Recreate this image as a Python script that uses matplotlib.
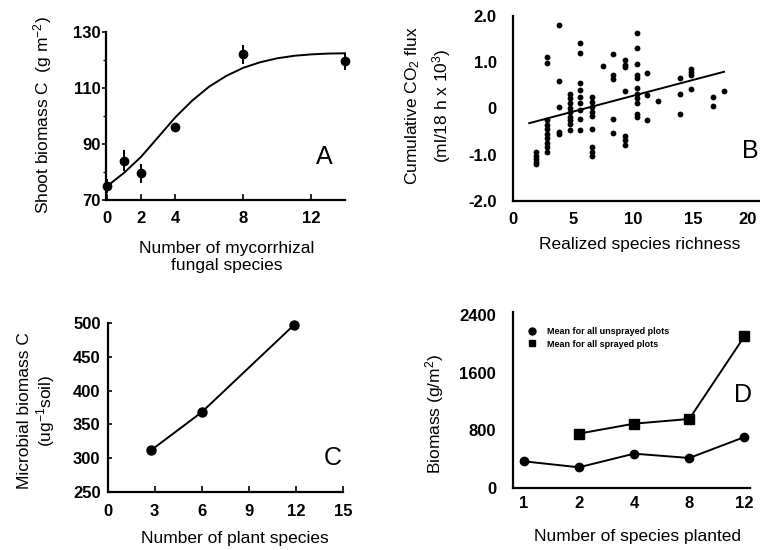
import matplotlib
matplotlib.use("Agg")
import matplotlib.pyplot as plt
from matplotlib.lines import Line2D
from matplotlib.transforms import ScaledTranslation

plt.rcParams['font.family'] = ['Liberation Sans', 'DejaVu Sans']
plt.rcParams['mathtext.fontset'] = 'custom'
plt.rcParams['mathtext.rm'] = 'Liberation Sans'
plt.rcParams['mathtext.it'] = 'Liberation Sans:italic'
plt.rcParams['mathtext.bf'] = 'Liberation Sans:bold'

# ---------------- Panel A data ----------------
a_species = [0, 1, 2, 4, 8, 14]
a_biomass = [75, 84, 79.5, 96, 122, 119.5]
a_err = [2.5, 3.7, 3.3, 1.0, 3.5, 2.9]
a_curve_x = [0, 1, 2, 3, 4, 5, 6, 7, 8, 9, 10, 11, 12, 13, 14]
a_curve_y = [75, 79.8, 85.5, 92.5, 99.5, 105.5, 110.5, 114.3, 117.2, 119.2, 120.6, 121.5, 122.0, 122.3, 122.4]
a_xticks = [0, 2, 4, 8, 12]
a_yticks = [70, 90, 110, 130]

# ---------------- Panel B data ----------------
b_richness = [1.9, 2.85, 3.8, 4.7, 5.6, 6.55, 7.5, 8.35, 9.3, 10.3, 11.2, 12.1, 13.95, 14.85, 16.7, 17.6]
b_flux = [
    [-0.94, -1.02, -1.09, -1.15, -1.21],
    [1.1, 0.97, -0.25, -0.35, -0.45, -0.55, -0.65, -0.74, -0.84, -0.94],
    [1.8, 0.6, 0.02, -0.5, -0.56],
    [0.32, 0.22, 0.11, 0.0, -0.08, -0.18, -0.25, -0.33, -0.46],
    [1.4, 1.2, 0.55, 0.4, 0.24, 0.12, -0.04, -0.22, -0.46],
    [0.25, 0.14, 0.03, -0.07, -0.17, -0.45, -0.83, -0.94, -1.03],
    [0.91],
    [1.17, 0.72, 0.63, -0.22, -0.54],
    [1.04, 0.94, 0.89, 0.37, -0.6, -0.68, -0.79],
    [1.63, 1.31, 0.95, 0.72, 0.65, 0.43, 0.32, 0.22, 0.12, -0.12, -0.19],
    [0.76, 0.29, -0.25],
    [0.16],
    [0.65, 0.3, -0.13],
    [0.86, 0.79, 0.73, 0.41],
    [0.25, 0.06],
    [0.38],
]
b_fit_x = [1.33, 17.6]
b_fit_y = [-0.32, 0.79]
b_xticks = [0, 5, 10, 15, 20]
b_yticks = [-2.0, -1.0, 0, 1.0, 2.0]
b_yticklabels = ['-2.0', '-1.0', '0', '1.0', '2.0']

# ---------------- Panel C data ----------------
c_species = [2.8, 6.0, 11.9]
c_microbial = [312, 368, 498]
c_xticks = [0, 3, 6, 9, 12, 15]
c_yticks = [250, 300, 350, 400, 450, 500]

# ---------------- Panel D data ----------------
d_categories = ['1', '2', '4', '8', '12']
d_unsprayed = [370, 287, 476, 416, 707]
d_sprayed_cats = ['2', '4', '8', '12']
d_sprayed = [754, 892, 957, 2104]
d_yticks = [0, 800, 1600, 2400]

W, H = 760, 550
fig = plt.figure(figsize=(W / 100, H / 100), dpi=100)


def px_axes(l, t, r, b):
    return fig.add_axes([l / W, 1 - b / H, (r - l) / W, (b - t) / H])


def ftext(x, y, s, **kw):
    fig.text(x / W, 1 - y / H, s, **kw)


TICKFS = 12
LABFS = 12.5
LW = 1.4
SPW = 1.6


def style(ax):
    for s in ['top', 'right']:
        ax.spines[s].set_visible(False)
    for s in ['left', 'bottom']:
        ax.spines[s].set_linewidth(SPW)
    for lab in ax.get_xticklabels() + ax.get_yticklabels():
        lab.set_fontweight('bold')
        lab.set_fontsize(TICKFS)


# ---------------- Panel A ----------------
axA = px_axes(106, 32, 345, 200)
axA.plot(a_curve_x, a_curve_y, color='black', lw=LW, clip_on=False, zorder=2)
axA.errorbar(a_species, a_biomass, yerr=a_err, fmt='o', color='black', ms=6,
             elinewidth=1.4, capsize=0, clip_on=False, zorder=3)
axA.set_xlim(-0.08, 14.0)
axA.set_ylim(70, 130)
axA.set_xticks(a_xticks)
axA.set_yticks(a_yticks)
axA.set_yticks([80, 100, 120], minor=True)
axA.tick_params(axis='x', direction='in', length=4, width=1.2, pad=8)
axA.tick_params(axis='y', direction='out', length=3, width=1.2, pad=1)
axA.tick_params(axis='y', which='minor', direction='out', length=2, width=1.0)
style(axA)
ftext(324, 157, 'A', fontsize=18, ha='center', va='center')
ftext(43, 115, 'Shoot biomass C  (g m$^{-2}$)', fontsize=LABFS, rotation=90,
      ha='center', va='center')
ftext(227, 257, 'Number of mycorrhizal\nfungal species', fontsize=LABFS,
      ha='center', va='center', linespacing=1.15)

# ---------------- Panel B ----------------
axB = px_axes(513.3, 15.7, 760, 201)
bx, by = [], []
for xv, ys in zip(b_richness, b_flux):
    for yv in ys:
        bx.append(xv)
        by.append(yv)
axB.plot(bx, by, 'o', color='black', ms=4.2, mew=0, zorder=3)
axB.plot(b_fit_x, b_fit_y, color='black', lw=LW, zorder=2)
axB.set_xlim(0, 20.6)
axB.set_ylim(-2, 2)
axB.set_xticks(b_xticks)
axB.set_yticks(b_yticks)
axB.set_yticklabels(b_yticklabels)
axB.tick_params(axis='both', length=0)
axB.tick_params(axis='x', pad=8)
axB.tick_params(axis='y', pad=12)
style(axB)
last = axB.get_xticklabels()[-1]
last.set_transform(last.get_transform() + ScaledTranslation(-5 / 100, 0, fig.dpi_scale_trans))
ftext(750, 151, 'B', fontsize=18, ha='center', va='center')
ftext(428, 106, 'Cumulative CO$_2$ flux\n(ml/18 h x 10$^3$)', fontsize=LABFS,
      rotation=90, ha='center', va='center', multialignment='center',
      linespacing=1.45)
ftext(640, 245, 'Realized species richness', fontsize=LABFS, ha='center', va='center')

# ---------------- Panel C ----------------
axC = px_axes(107.5, 323.3, 343, 491.7)
axC.plot(c_species, c_microbial, '-o', color='black', lw=LW, ms=6.5, clip_on=False)
axC.set_xlim(0, 15)
axC.set_ylim(250, 500)
axC.set_xticks(c_xticks)
axC.set_yticks(c_yticks)
axC.tick_params(axis='x', direction='in', length=4, width=1.2, pad=9)
axC.tick_params(axis='y', direction='in', length=3, width=1.2, pad=5)
style(axC)
ftext(333, 458, 'C', fontsize=18, ha='center', va='center')
ftext(37, 411, 'Microbial biomass C\n(ug$^{-1}$soil)', fontsize=LABFS, rotation=90,
      ha='center', va='center', multialignment='center', linespacing=1.15)
ftext(235, 538, 'Number of plant species', fontsize=LABFS, ha='center', va='center')

# ---------------- Panel D ----------------
axD = px_axes(512.7, 312, 750, 488)
pos = {c: i for i, c in enumerate(d_categories)}
axD.plot([pos[c] for c in d_categories], d_unsprayed, '-o', color='black', lw=LW,
         ms=6, clip_on=False, label='Mean for all unsprayed plots')
axD.plot([pos[c] for c in d_sprayed_cats], d_sprayed, '-s', color='black', lw=LW,
         ms=6.5, clip_on=False, label='Mean for all sprayed plots')
axD.set_xlim(-0.2, 4.1)
axD.set_ylim(0, 2440)
axD.set_xticks(range(len(d_categories)))
axD.set_xticklabels(d_categories)
axD.set_yticks(d_yticks)
axD.tick_params(axis='both', length=0)
axD.tick_params(axis='x', pad=6)
axD.tick_params(axis='y', pad=12)
style(axD)
h1 = Line2D([], [], marker='o', color='black', ls='none', ms=5)
h2 = Line2D([], [], marker='s', color='black', ls='none', ms=5)
leg = axD.legend([h1, h2], ['Mean for all unsprayed plots', 'Mean for all sprayed plots'],
                 loc='upper left', bbox_to_anchor=(527 / W, 1 - 327 / H),
                 bbox_transform=fig.transFigure, frameon=False, borderpad=0,
                 borderaxespad=0, handlelength=1.0, handletextpad=1.2,
                 labelspacing=0.4, prop={'size': 6.5, 'weight': 'bold'})
ftext(743, 395, 'D', fontsize=18, ha='center', va='center')
ftext(435, 414, 'Biomass (g/m$^2$)', fontsize=LABFS, rotation=90, ha='center', va='center')
ftext(638, 537, 'Number of species planted', fontsize=LABFS, ha='center', va='center')

fig.savefig('out.png', dpi=100)
